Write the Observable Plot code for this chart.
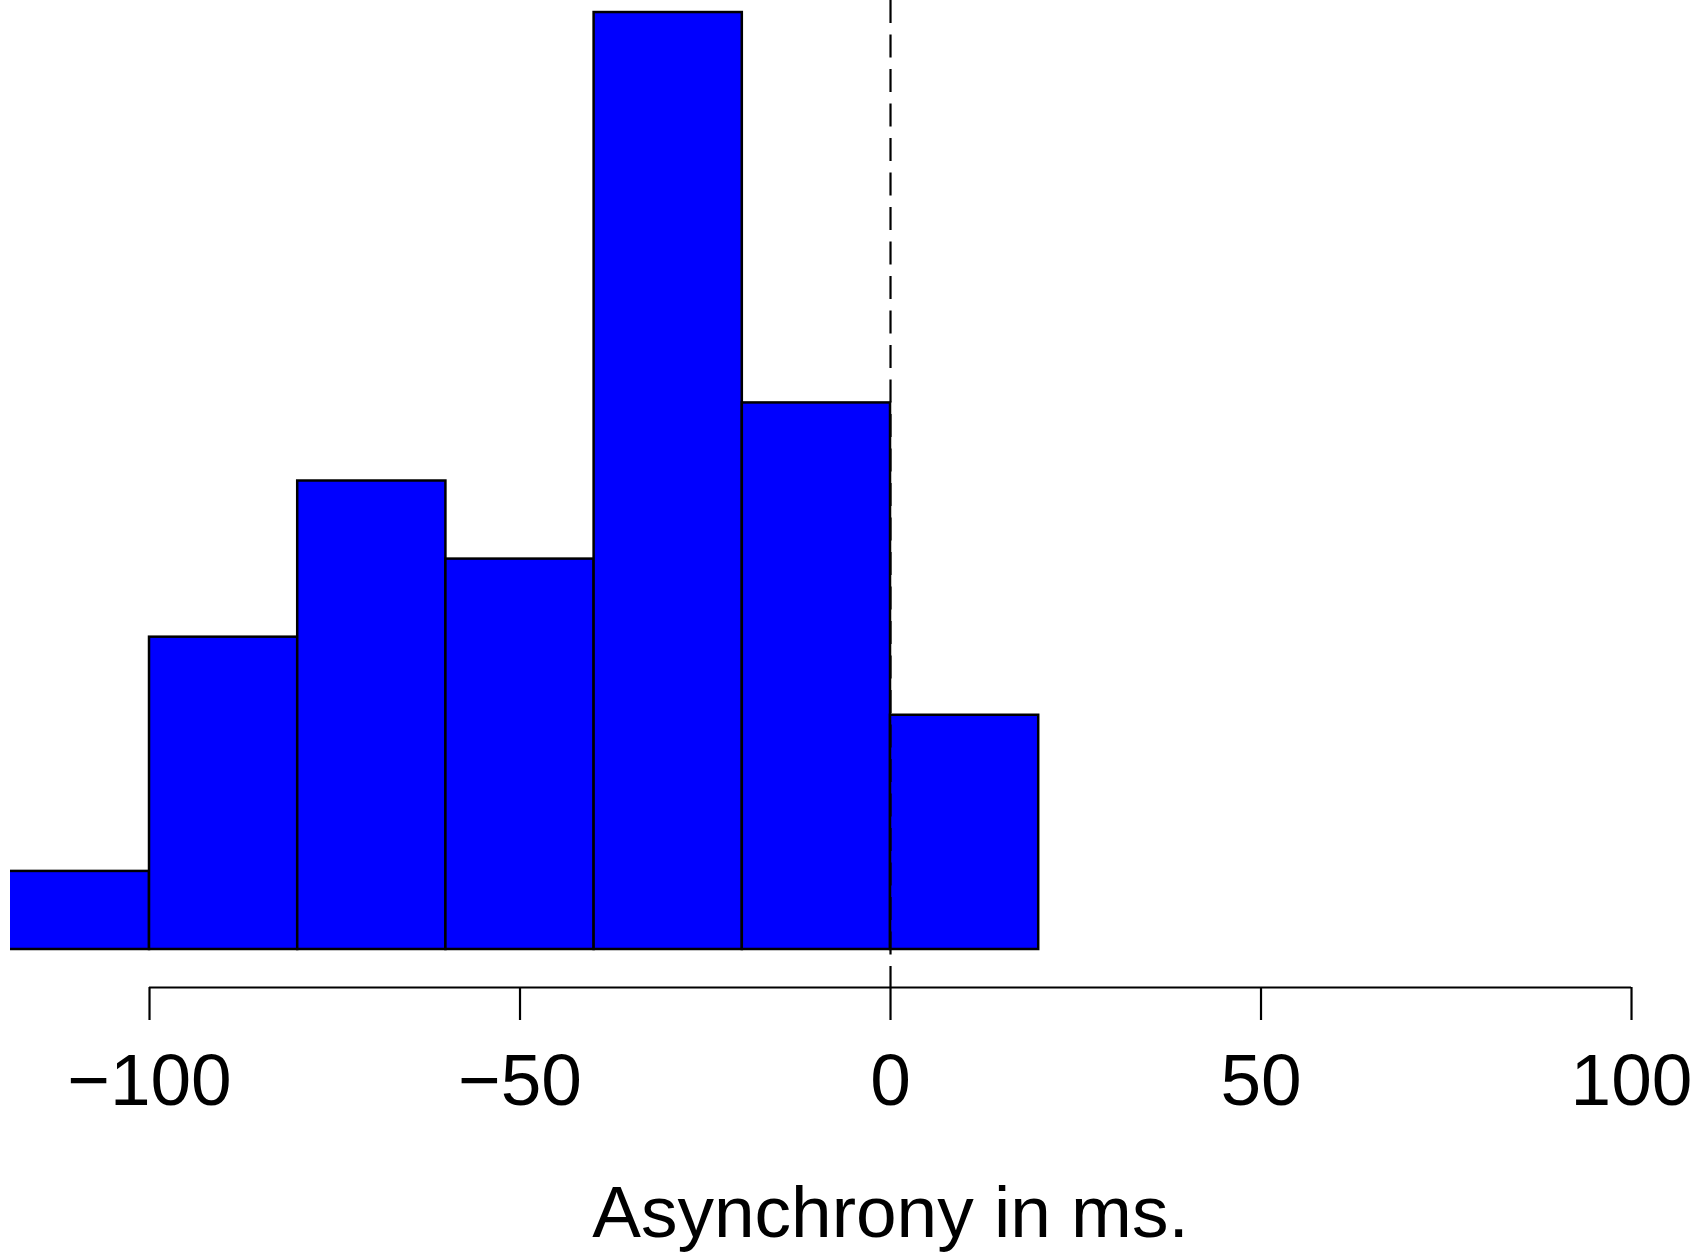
<!DOCTYPE html>
<html>
<head>
<meta charset="utf-8">
<script src="https://cdn.jsdelivr.net/npm/d3@7"></script>
<script src="https://cdn.jsdelivr.net/npm/@observablehq/plot@0.6"></script>
<style>
  html, body { margin: 0; padding: 0; background: #fff; }
  #chart svg { display: block; }
</style>
</head>
<body>
<div id="chart"></div>
<script>
// Histogram bins (ms) and counts
const binStarts = [-120, -100, -80, -60, -40, -20, 0];
const binWidth = 20;
const counts = [1, 4, 6, 5, 12, 7, 3];
const tickValues = [-100, -50, 0, 50, 100];
const refLine = [0];
const xLabel = "Asynchrony in ms.";

const bins = binStarts.map((s, i) => ({x1: s, x2: s + binWidth, count: counts[i]}));

const W = 1696, H = 1252;
const marginLeft = 10, marginRight = 0, marginTop = 0, marginBottom = 265;
const xDomain = [-118.76, 108.77];
const yDomain = [-0.4867, 12.154];

const axisLine = [{y: yDomain[0], x1: tickValues[0], x2: tickValues[tickValues.length - 1]}];
const titleRow = [{x: (tickValues[0] + tickValues[tickValues.length - 1]) / 2, text: xLabel}];

const chart = Plot.plot({
  width: W,
  height: H,
  marginLeft, marginRight, marginTop, marginBottom,
  style: {fontFamily: "'Liberation Sans', Arial, Helvetica, sans-serif", background: "#fff"},
  x: {domain: xDomain},
  y: {domain: yDomain, axis: null},
  marks: [
    Plot.rectY(bins, {x1: "x1", x2: "x2", y1: 0, y2: "count", fill: "#0000ff", stroke: "#000", strokeWidth: 2.5, clip: true}),
    Plot.ruleX(refLine, {stroke: "#000", strokeWidth: 2.2, strokeDasharray: "23,11.5"}),
    Plot.ruleY(axisLine, {y: "y", x1: "x1", x2: "x2", stroke: "#000", strokeWidth: 2}),
    Plot.axisX({
      ticks: tickValues,
      tickSize: 33,
      tickPadding: 33,
      strokeWidth: 2.2,
      fontSize: 73,
      fill: "#000",
      label: null
    }),
    Plot.text(titleRow, {
      x: "x",
      frameAnchor: "bottom",
      text: "text",
      fontSize: 73,
      fill: "#000",
      dy: 249,
      lineAnchor: "bottom"
    })
  ]
});

document.getElementById("chart").appendChild(chart);
</script>
</body>
</html>
